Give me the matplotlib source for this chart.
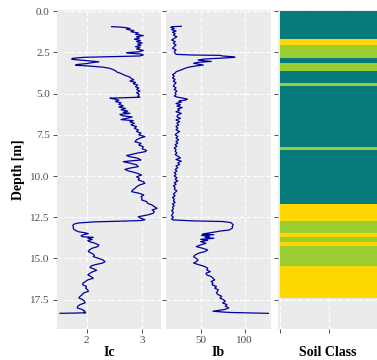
import matplotlib.pyplot as plt

# CPT derived profiles
ic_depth = [0.94, 0.97, 1.00, 1.05, 1.10, 1.18, 1.25, 1.32, 1.40, 1.48, 1.55, 1.63, 1.70, 1.78,
            1.85, 1.93, 2.00, 2.08, 2.15, 2.22, 2.30, 2.38, 2.46, 2.52, 2.56, 2.60, 2.66, 2.72,
            2.76, 2.80, 2.86, 2.92, 2.97, 3.02, 3.07, 3.12, 3.18, 3.24, 3.28, 3.33, 3.40, 3.47,
            3.55, 3.62, 3.70, 3.78, 3.85, 3.93, 4.00, 4.08, 4.16, 4.24, 4.32, 4.40, 4.48, 4.58,
            4.66, 4.75, 4.85, 4.95, 5.05, 5.15, 5.22, 5.28, 5.33, 5.40, 5.48, 5.56, 5.65, 5.74,
            5.82, 5.90, 5.98, 6.06, 6.14, 6.20, 6.26, 6.34, 6.42, 6.50, 6.58, 6.64, 6.72, 6.80,
            6.90, 7.00, 7.10, 7.21, 7.30, 7.40, 7.50, 7.61, 7.70, 7.80, 7.92, 8.02, 8.12, 8.22,
            8.35, 8.45, 8.52, 8.62, 8.70, 8.76, 8.83, 8.92, 9.03, 9.08, 9.13, 9.22, 9.32, 9.43,
            9.52, 9.60, 9.70, 9.82, 9.94, 10.05, 10.15, 10.24, 10.34, 10.44, 10.55, 10.65, 10.75,
            10.85, 10.95, 11.05, 11.15, 11.25, 11.35, 11.45, 11.55, 11.66, 11.76, 11.86, 11.96,
            12.06, 12.16, 12.26, 12.36, 12.47, 12.57, 12.65, 12.70, 12.74, 12.78, 12.85, 12.92,
            13.00, 13.10, 13.20, 13.30, 13.38, 13.45, 13.50, 13.55, 13.62, 13.68, 13.72, 13.78,
            13.85, 13.92, 13.98, 14.08, 14.18, 14.28, 14.38, 14.48, 14.58, 14.70, 14.80, 14.89,
            15.00, 15.10, 15.20, 15.29, 15.38, 15.46, 15.55, 15.62, 15.72, 15.82, 15.92, 16.00,
            16.10, 16.20, 16.30, 16.40, 16.50, 16.60, 16.70, 16.80, 16.90, 17.00, 17.10, 17.20,
            17.30, 17.40, 17.50, 17.60, 17.70, 17.80, 17.90, 18.00, 18.10, 18.20, 18.25, 18.30,
            18.33]
ic_value = [2.45, 2.62, 2.70, 2.78, 2.72, 2.85, 2.80, 2.93, 2.88, 3.02, 2.90, 2.95, 2.86, 2.97,
            2.90, 3.00, 2.92, 2.98, 2.88, 2.96, 2.90, 3.02, 2.95, 2.72, 2.80, 2.98, 3.02, 2.95,
            2.45, 1.95, 1.75, 1.73, 1.90, 2.05, 2.22, 2.10, 2.00, 1.82, 1.80, 2.05, 2.30, 2.42,
            2.48, 2.52, 2.55, 2.62, 2.66, 2.72, 2.78, 2.80, 2.85, 2.78, 2.88, 2.84, 2.92, 2.88,
            2.94, 2.90, 2.96, 2.90, 2.95, 2.92, 2.96, 2.42, 2.50, 2.58, 2.52, 2.62, 2.58, 2.66,
            2.58, 2.70, 2.62, 2.74, 2.66, 2.78, 2.60, 2.64, 2.82, 2.72, 2.62, 2.84, 2.78, 2.86,
            2.80, 2.90, 2.86, 2.93, 2.90, 2.98, 2.94, 3.05, 2.96, 2.90, 2.87, 2.98, 2.94, 3.02,
            3.00, 3.08, 3.06, 2.90, 2.80, 2.72, 2.78, 2.92, 2.98, 2.80, 2.66, 2.78, 2.90, 2.93,
            2.78, 2.69, 2.76, 2.90, 2.99, 2.90, 2.95, 2.93, 3.02, 3.05, 2.95, 2.90, 2.87,
            2.83, 2.81, 2.95, 3.03, 2.98, 3.00, 2.99, 3.08, 3.10, 3.18, 3.22, 3.27,
            3.18, 3.22, 3.20, 3.10, 2.93, 2.98, 3.05, 2.98, 2.60, 2.15, 1.85, 1.77,
            1.75, 1.76, 1.76, 1.80, 1.85, 1.98, 2.03, 1.95, 1.90, 1.92, 2.12, 2.02,
            2.10, 2.02, 2.05, 2.15, 2.22, 2.20, 2.10, 2.05, 2.03, 2.10, 2.14, 2.12,
            2.22, 2.30, 2.33, 2.28, 2.15, 2.08, 2.06, 2.12, 2.18, 2.10, 2.05, 2.02,
            2.08, 2.12, 2.02, 1.98, 1.93, 1.93, 2.00, 1.98, 2.02, 2.03, 1.94, 1.92,
            1.88, 1.86, 1.93, 1.96, 1.97, 1.88, 1.84, 1.83, 1.92, 1.97, 1.95, 1.98,
            1.52]

ib_depth = [0.92, 0.94, 0.98, 1.05, 1.12, 1.20, 1.28, 1.36, 1.45, 1.55, 1.65, 1.75, 1.85, 1.95,
            2.05, 2.15, 2.25, 2.35, 2.45, 2.55, 2.62, 2.66, 2.68, 2.72, 2.76, 2.80, 2.83, 2.86,
            2.90, 2.96, 3.00, 3.05, 3.10, 3.16, 3.22, 3.27, 3.32, 3.38, 3.45, 3.52, 3.60, 3.68,
            3.76, 3.85, 3.95, 4.05, 4.15, 4.25, 4.35, 4.45, 4.55, 4.65, 4.75, 4.85, 4.95, 5.05,
            5.15, 5.22, 5.29, 5.34, 5.40, 5.45, 5.52, 5.60, 5.68, 5.76, 5.85, 5.93, 6.02, 6.10,
            6.20, 6.30, 6.40, 6.50, 6.60, 6.70, 6.80, 6.90, 7.00, 7.10, 7.20, 7.30, 7.40, 7.50,
            7.60, 7.70, 7.80, 7.90, 8.00, 8.10, 8.20, 8.30, 8.40, 8.50, 8.60, 8.70, 8.80, 8.90,
            9.00, 9.10, 9.20, 9.30, 9.40, 9.50, 9.60, 9.70, 9.80, 9.90, 10.00, 10.10, 10.20,
            10.30, 10.40, 10.50, 10.60, 10.70, 10.80, 10.90, 11.00, 11.10, 11.20, 11.30, 11.40,
            11.50, 11.60, 11.70, 11.80, 11.90, 12.00, 12.10, 12.20, 12.30, 12.40, 12.50, 12.60,
            12.66, 12.72, 12.76, 12.82, 12.90, 12.97, 13.05, 13.17, 13.28, 13.34, 13.38, 13.45,
            13.52, 13.56, 13.60, 13.66, 13.72, 13.78, 13.84, 13.90, 13.98, 14.08, 14.18, 14.28,
            14.38, 14.48, 14.58, 14.68, 14.78, 14.89, 15.00, 15.10, 15.20, 15.28, 15.38, 15.50,
            15.60, 15.70, 15.80, 15.90, 16.00, 16.10, 16.20, 16.30, 16.40, 16.50, 16.60, 16.70,
            16.80, 16.90, 17.00, 17.10, 17.20, 17.30, 17.40, 17.50, 17.60, 17.70, 17.80, 17.90,
            18.00, 18.10, 18.20, 18.25, 18.28, 18.33]
ib_value = [28, 18, 16, 20, 17, 22, 18, 21, 19, 23, 20, 17, 21, 19,
            22, 20, 18, 22, 20, 21, 22, 40, 72, 75, 85, 89, 80, 70,
            55, 47, 52, 62, 48, 42, 48, 53, 45, 38, 33, 30, 26, 22,
            21, 18, 20, 18, 21, 19, 22, 20, 19, 22, 20, 23, 21, 22,
            20, 24, 31, 35, 32, 25, 28, 22, 27, 23, 29, 24, 26, 22,
            28, 24, 23, 27, 22, 26, 23, 25, 22, 24, 22, 26, 23, 21,
            24, 22, 25, 22, 24, 21, 23, 20, 22, 21, 23, 21, 24, 27,
            22, 28, 24, 26, 22, 24, 21, 23, 20, 22, 20, 23, 21,
            24, 20, 22, 19, 21, 20, 23, 21, 19, 21, 18, 20,
            19, 21, 18, 20, 18, 19, 17, 19, 18, 17, 19, 17,
            18, 40, 75, 84, 86, 87, 86, 86, 82, 72, 68, 60,
            52, 65, 51, 60, 55, 65, 50, 58, 50, 56, 50, 45,
            52, 58, 55, 48, 44, 42, 45, 47, 45, 42, 48, 55,
            58, 57, 61, 56, 57, 62, 64, 66, 62, 64, 63, 68,
            66, 70, 69, 68, 70, 74, 72, 76, 78, 75, 80, 78,
            82, 77, 64, 75, 85, 127]

layer_top = [0.0, 1.71, 2.06, 2.86, 3.13, 3.63, 4.34, 4.54, 8.22, 8.42, 11.72, 12.71,
             13.48, 13.72, 13.98, 14.25, 15.46]
layer_bottom = [1.71, 2.06, 2.86, 3.13, 3.63, 4.34, 4.54, 8.22, 8.42, 11.72, 12.71, 13.48,
                13.72, 13.98, 14.25, 15.46, 17.42]
layer_class = ["clay", "sand", "silt", "clay", "silt", "clay", "silt", "clay", "silt", "clay",
               "sand", "silt", "sand", "silt", "sand", "silt", "sand"]
class_colors = {"clay": "#077b7b", "silt": "#9acd32", "sand": "#ffd700"}

depth_ticks = [0.0, 2.5, 5.0, 7.5, 10.0, 12.5, 15.0, 17.5]

plt.rcParams["font.family"] = ["Liberation Serif", "DejaVu Serif"]

fig = plt.figure(figsize=(3.77, 3.6), dpi=100)
bottom, height = 1 - 329 / 360, 319 / 360
ax_ic = fig.add_axes([56.7 / 377, bottom, 104.3 / 377, height])
ax_ib = fig.add_axes([166 / 377, bottom, 105 / 377, height])
ax_soil = fig.add_axes([278 / 377, bottom, 99 / 377, height])


def style(ax):
    ax.set_facecolor("#ebebeb")
    for s in ax.spines.values():
        s.set_visible(False)
    ax.set_ylim(19.28, -0.07)
    ax.set_yticks(depth_ticks)
    ax.grid(True, color="white", linestyle=(0, (4, 2)), linewidth=0.8)
    ax.set_axisbelow(True)
    ax.tick_params(length=2.75, width=0.6, color="#333333", pad=2.2,
                   labelsize=8, labelcolor="#4d4d4d")


for ax in (ax_ic, ax_ib, ax_soil):
    style(ax)

ax_ic.plot(ic_value, ic_depth, color="#0000a0", lw=0.9)
ax_ic.set_xlim(1.46, 3.34)
ax_ic.set_xticks([2, 3])
ax_ic.set_yticklabels([f"{t:.1f}" for t in depth_ticks])
ax_ic.set_ylabel("Depth [m]", fontsize=10, fontweight="bold", labelpad=4)
ax_ic.set_xlabel("Ic", fontsize=10, fontweight="bold", labelpad=1)

ax_ib.plot(ib_value, ib_depth, color="#0000a0", lw=0.9)
ax_ib.set_xlim(10.6, 130)
ax_ib.set_xticks([50, 100])
ax_ib.set_yticklabels([])
ax_ib.set_xlabel("Ib", fontsize=10, fontweight="bold", labelpad=1)

for top, bot, cls in zip(layer_top, layer_bottom, layer_class):
    ax_soil.barh(top, 2.0, height=bot - top, left=0, align="edge",
                 color=class_colors[cls], linewidth=0)
ax_soil.set_xlim(-0.04, 1.98)
ax_soil.set_xticks([0, 1])
ax_soil.set_xticklabels(["", ""])
ax_soil.set_yticklabels([])
ax_soil.set_xlabel("Soil Class", fontsize=10, fontweight="bold", labelpad=7)

fig.savefig("out.png", dpi=100)
